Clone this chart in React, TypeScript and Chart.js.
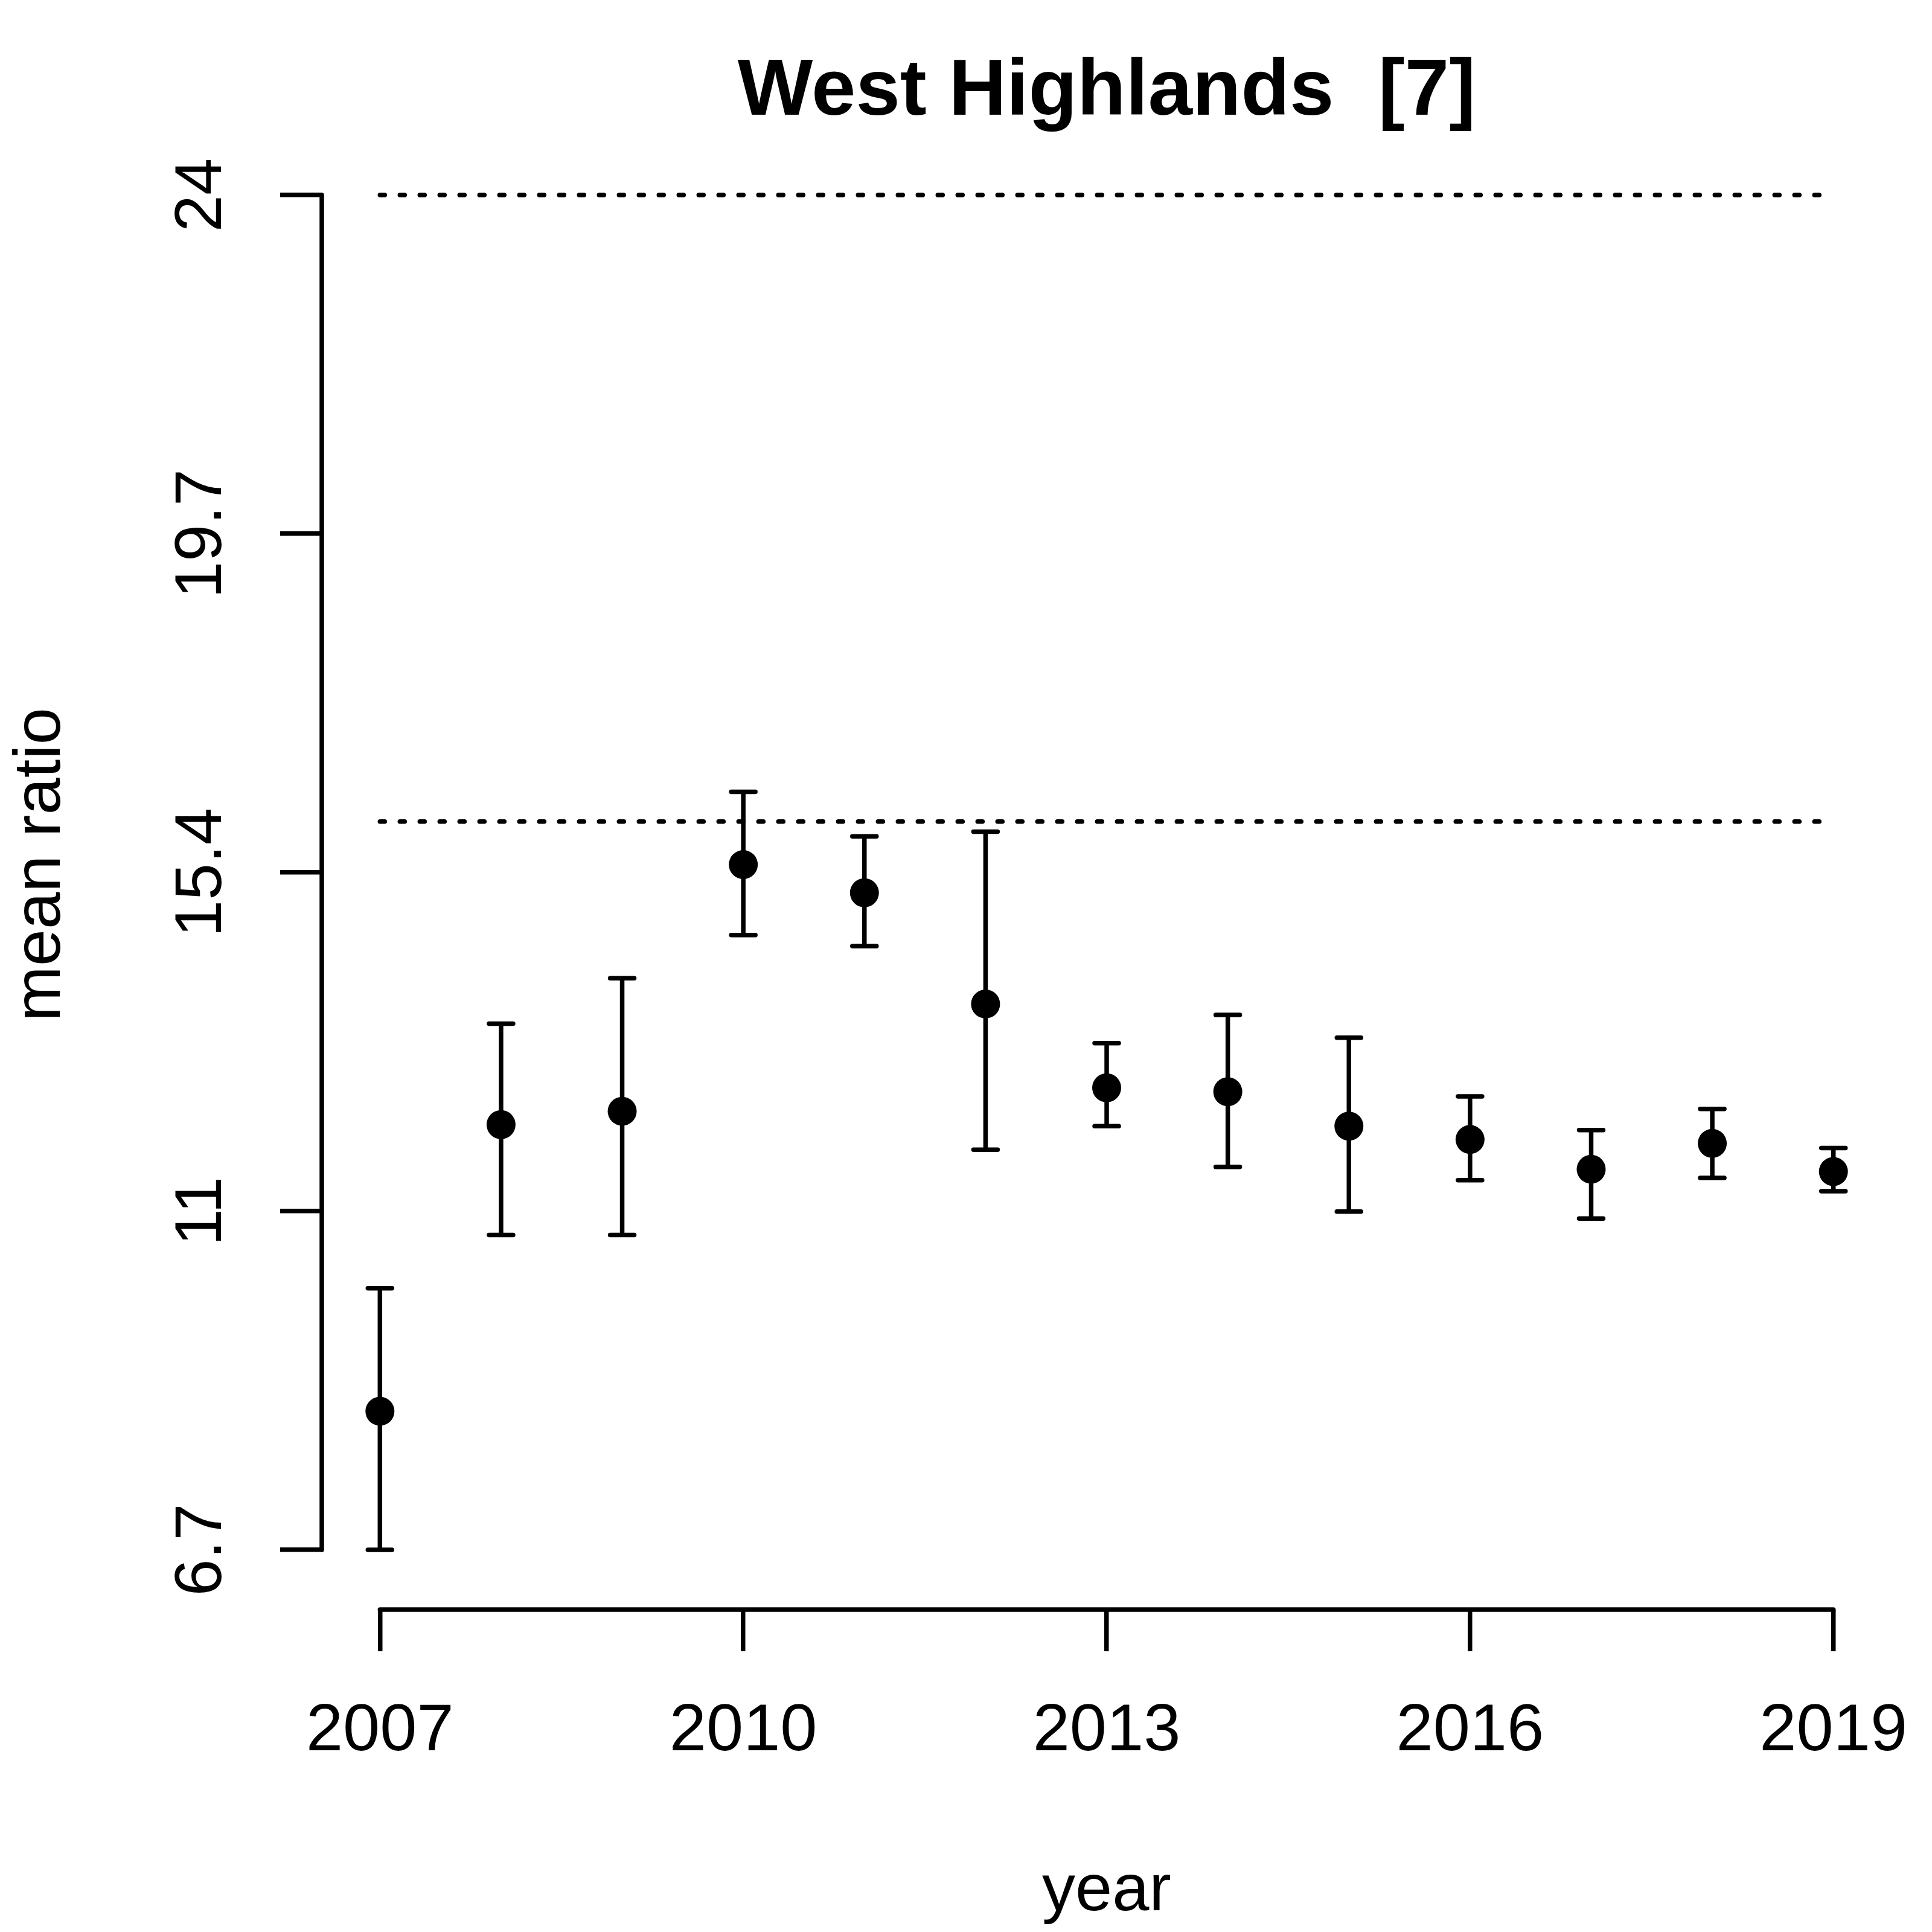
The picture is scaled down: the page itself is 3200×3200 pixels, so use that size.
import React, { useEffect, useRef } from "react";
import { Chart, registerables } from "chart.js";

Chart.register(...registerables);

// ---- data ----
const years = [2007, 2008, 2009, 2010, 2011, 2012, 2013, 2014, 2015, 2016, 2017, 2018, 2019];
const means = [8.47, 12.13, 12.3, 15.45, 15.09, 13.67, 12.6, 12.55, 12.11, 11.94, 11.56, 11.89, 11.53];
const lowers = [6.7, 10.72, 10.72, 14.55, 14.41, 11.81, 12.11, 11.59, 11.02, 11.42, 10.93, 11.45, 11.28];
const uppers = [10.04, 13.42, 14.0, 16.38, 15.81, 15.87, 13.17, 13.53, 13.24, 12.49, 12.06, 12.33, 11.83];
const refLevels = [16, 24];

const xTickValues = [2007, 2010, 2013, 2016, 2019];
const yTickValues = [6.7, 11.025, 15.35, 19.675, 24];
const yTickLabels = ["6.7", "11", "15.4", "19.7", "24"];

const titleText = "West Highlands  [7]";
const xTitle = "year";
const yTitle = "mean ratio";

const FONT = "'Liberation Sans', Arial, sans-serif";
const LW = 7.5;

const axisLinePlugin = {
  id: "rAxisLines",
  beforeDatasetsDraw(chart: any) {
    const { ctx, chartArea } = chart;
    const x = chart.scales.x;
    const y = chart.scales.y;
    ctx.save();
    ctx.strokeStyle = "#000";
    ctx.lineWidth = LW;
    ctx.lineCap = "round";
    ctx.beginPath();
    ctx.moveTo(x.getPixelForValue(xTickValues[0]), chartArea.bottom);
    ctx.lineTo(x.getPixelForValue(xTickValues[xTickValues.length - 1]), chartArea.bottom);
    ctx.moveTo(chartArea.left, y.getPixelForValue(yTickValues[0]));
    ctx.lineTo(chartArea.left, y.getPixelForValue(yTickValues[yTickValues.length - 1]));
    ctx.stroke();
    ctx.restore();
  },
};

const errorBarPlugin = {
  id: "errorBars",
  beforeDatasetsDraw(chart: any) {
    const { ctx } = chart;
    const x = chart.scales.x;
    const y = chart.scales.y;
    const half = 20;
    ctx.save();
    ctx.strokeStyle = "#000";
    ctx.lineWidth = LW;
    ctx.lineCap = "round";
    years.forEach((yr, i) => {
      const px = x.getPixelForValue(yr);
      const pl = y.getPixelForValue(lowers[i]);
      const pu = y.getPixelForValue(uppers[i]);
      ctx.beginPath();
      ctx.moveTo(px, pl);
      ctx.lineTo(px, pu);
      ctx.moveTo(px - half, pl);
      ctx.lineTo(px + half, pl);
      ctx.moveTo(px - half, pu);
      ctx.lineTo(px + half, pu);
      ctx.stroke();
    });
    ctx.restore();
  },
};

export default function App() {
  const canvasRef = useRef<HTMLCanvasElement | null>(null);

  useEffect(() => {
    const canvas = canvasRef.current;
    if (!canvas) return;

    const refDatasets = refLevels.map((lvl) => ({
      type: "scatter" as const,
      data: [
        { x: years[0], y: lvl },
        { x: years[years.length - 1], y: lvl },
      ],
      showLine: true,
      borderColor: "#000",
      borderWidth: LW,
      borderDash: [8, 25],
      borderCapStyle: "round" as const,
      pointRadius: 0,
      fill: false,
    }));

    const chart = new Chart(canvas, {
      type: "scatter",
      data: {
        datasets: [
          ...refDatasets,
          {
            data: years.map((yr, i) => ({ x: yr, y: means[i] })),
            pointRadius: 24,
            pointBackgroundColor: "#000",
            pointBorderWidth: 0,
            pointBorderColor: "#000",
            showLine: false,
          } as any,
        ],
      },
      options: {
        responsive: false,
        animation: false,
        devicePixelRatio: 1,
        layout: { padding: { left: 0, right: 67, top: 0, bottom: 0 } },
        plugins: {
          legend: { display: false },
          tooltip: { enabled: false },
          title: {
            display: true,
            text: titleText,
            color: "#000",
            fullSize: false,
            font: { family: FONT, size: 132, weight: "bold", lineHeight: 1 },
            padding: { top: 88, bottom: -22 },
          },
        },
        scales: {
          x: {
            type: "linear",
            position: "bottom",
            min: 2006.52,
            max: 2019.48,
            afterBuildTicks: (s: any) => {
              s.ticks = xTickValues.map((v) => ({ value: v }));
            },
            afterFit: (s: any) => {
              s.height = 534;
              s.paddingLeft = 0;
              s.paddingRight = 0;
            },
            ticks: {
              autoSkip: false,
              minRotation: 0,
              maxRotation: 0,
              padding: 68,
              color: "#000",
              font: { family: FONT, size: 110, lineHeight: 1.2 },
              callback: (v: any) => String(v),
            },
            grid: {
              display: true,
              drawOnChartArea: false,
              drawTicks: true,
              tickLength: 69,
              lineWidth: LW,
              color: "#000",
            },
            border: { display: false },
            title: {
              display: true,
              text: xTitle,
              color: "#000",
              font: { family: FONT, size: 110, lineHeight: 1.2 },
              padding: { top: 0, bottom: 0 },
            },
          },
          y: {
            type: "linear",
            position: "left",
            min: 5.937,
            max: 24.964,
            afterBuildTicks: (s: any) => {
              s.ticks = yTickValues.map((v) => ({ value: v }));
            },
            afterFit: (s: any) => {
              s.width = 533;
              s.paddingTop = 0;
              s.paddingBottom = 0;
            },
            ticks: {
              autoSkip: false,
              minRotation: 90,
              maxRotation: 90,
              crossAlign: "center",
              padding: 21,
              color: "#000",
              font: { family: FONT, size: 110, lineHeight: 1.2 },
              callback: (_v: any, i: number) => yTickLabels[i],
            },
            grid: {
              display: true,
              drawOnChartArea: false,
              drawTicks: true,
              tickLength: 69,
              lineWidth: LW,
              color: "#000",
            },
            border: { display: false },
            title: {
              display: true,
              text: yTitle,
              color: "#000",
              font: { family: FONT, size: 110, lineHeight: 1.2 },
              padding: { top: 3, bottom: 0 },
            },
          },
        },
      } as any,
      plugins: [axisLinePlugin, errorBarPlugin],
    });

    return () => {
      chart.destroy();
    };
  }, []);

  return (
    <div style={{ position: "absolute", left: 0, top: 0, width: 3200, height: 3200, background: "#fff" }}>
      <canvas ref={canvasRef} width={3200} height={3200} style={{ display: "block" }} />
    </div>
  );
}
